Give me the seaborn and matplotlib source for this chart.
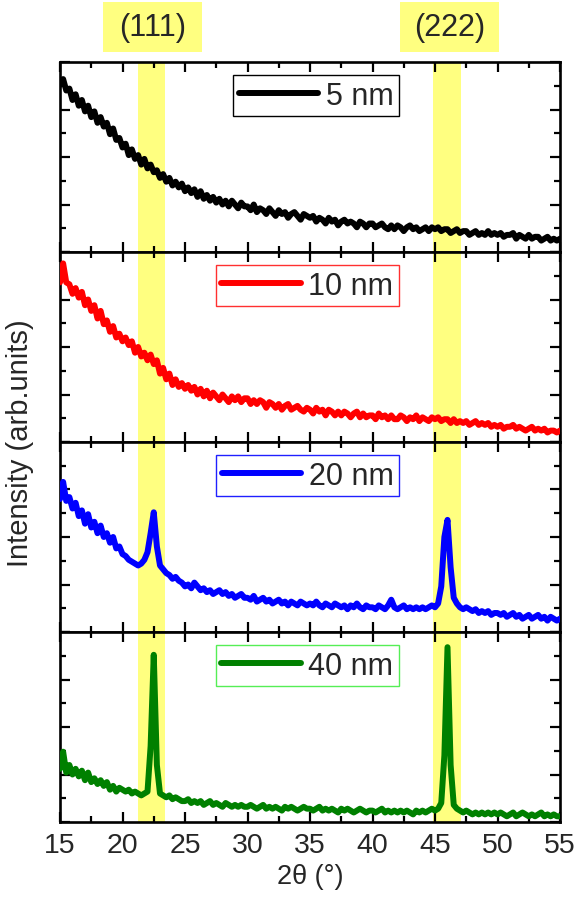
import numpy as np
import pandas as pd
import matplotlib
matplotlib.use("Agg")
import matplotlib.pyplot as plt
from matplotlib.ticker import MultipleLocator
from matplotlib.patches import Rectangle
from matplotlib.transforms import blended_transform_factory
import seaborn as sns

# ---- data -------------------------------------------------------------
two_theta = np.arange(15.0, 55.001, 0.25)

labels = ["5 nm", "10 nm", "20 nm", "40 nm"]
line_colors = ["black", "#ff0000", "#0000ff", "#008000"]
frame_colors = ["black", "#ff3030", "#2020ff", "#55ee55"]

i_5nm = [
    88, 91, 85, 86, 80, 83, 77, 80, 74, 77, 71, 74, 68, 71, 66, 68, 62, 65, 59, 60,
    55, 57, 51, 54, 49, 51, 46, 49, 44, 46, 42, 43, 39, 41, 37, 39, 35, 37, 34, 36,
    32, 34, 31, 33, 29, 32, 28, 30, 27, 29, 26, 28, 25, 27, 24, 27, 25, 23, 26, 24,
    24, 22, 25, 21, 23, 22, 20, 23, 21, 19, 22, 20, 21, 18, 20, 21, 19, 17, 20, 19,
    18, 19, 16, 18, 17, 15, 18, 16, 17, 14, 16, 17, 15, 16, 15, 13, 16, 15, 13, 15,
    15, 13, 14, 15, 13, 12, 14, 12, 14, 13, 11, 13, 14, 12, 13, 11, 12, 13, 11, 13,
    12, 13, 11, 12, 12, 10, 11, 12, 10, 11, 11, 9, 10, 11, 9, 10, 9, 11, 9, 10,
    9, 10, 8, 9, 9, 10, 7, 9, 8, 7, 9, 7, 8, 8, 6, 7, 8, 6, 7, 6,
    7,
]

i_10nm = [
    84, 94, 84, 83, 78, 81, 76, 79, 72, 75, 69, 72, 65, 69, 62, 64, 58, 61, 55, 57,
    53, 55, 51, 53, 47, 50, 45, 47, 43, 46, 41, 43, 36, 39, 33, 36, 30, 33, 29, 31,
    28, 30, 27, 29, 25, 28, 24, 27, 23, 26, 24, 22, 25, 23, 21, 24, 22, 24, 21, 23,
    23, 20, 22, 20, 22, 21, 18, 21, 20, 18, 20, 17, 19, 20, 17, 18, 19, 17, 16, 18,
    17, 15, 18, 16, 17, 14, 17, 16, 14, 16, 14, 16, 15, 13, 15, 16, 13, 15, 13, 14,
    14, 12, 15, 13, 14, 12, 14, 12, 12, 14, 13, 11, 13, 12, 14, 11, 13, 12, 11, 13,
    12, 13, 11, 12, 12, 10, 12, 10, 11, 10, 11, 9, 10, 11, 9, 10, 9, 10, 8, 9,
    8, 9, 7, 8, 8, 9, 7, 8, 7, 6, 7, 8, 6, 7, 6, 7, 5, 6, 6, 5,
    6,
]

i_20nm = [
    70, 79, 69, 71, 65, 68, 61, 64, 57, 62, 55, 58, 52, 56, 50, 52, 47, 50, 44, 45,
    41, 40, 38, 37, 36, 35, 36, 38, 42, 52, 63, 45, 35, 33, 31, 30, 28, 29, 27, 26,
    24, 25, 23, 26, 24, 22, 23, 21, 22, 20, 21, 22, 20, 21, 19, 20, 18, 19, 20, 18,
    18, 17, 19, 16, 17, 18, 16, 17, 15, 16, 17, 15, 16, 14, 16, 15, 14, 16, 15, 14,
    15, 14, 16, 14, 13, 15, 14, 13, 15, 14, 13, 14, 12, 14, 13, 15, 13, 12, 14, 13,
    13, 12, 14, 13, 12, 14, 17, 13, 12, 13, 14, 12, 13, 12, 13, 12, 13, 12, 13, 14,
    13, 15, 24, 50, 59, 34, 18, 15, 13, 12, 13, 12, 11, 12, 10, 11, 10, 11, 9, 10,
    10, 9, 10, 8, 9, 10, 8, 9, 7, 8, 9, 7, 8, 9, 7, 8, 6, 8, 7, 6,
    7,
]

i_40nm = [
    28, 37, 26, 30, 25, 28, 24, 27, 22, 26, 21, 23, 20, 22, 19, 21, 17, 19, 16, 18,
    17, 16, 17, 15, 16, 15, 14, 15, 16, 40, 88, 30, 15, 14, 13, 14, 12, 13, 12, 11,
    11, 12, 10, 11, 10, 11, 9, 10, 11, 9, 10, 9, 8, 10, 9, 8, 9, 8, 9, 8,
    8, 9, 8, 7, 8, 9, 7, 8, 7, 8, 7, 6, 8, 7, 8, 7, 6, 7, 8, 7,
    7, 6, 7, 8, 6, 7, 6, 7, 6, 5, 7, 6, 7, 6, 5, 6, 7, 6, 5, 6,
    6, 5, 6, 7, 5, 6, 5, 6, 5, 6, 5, 6, 5, 4, 6, 5, 6, 5, 6, 7,
    6, 7, 10, 35, 92, 30, 9, 7, 6, 5, 6, 5, 4, 5, 4, 5, 4, 5, 4, 5,
    4, 5, 4, 3, 4, 5, 3, 4, 5, 4, 3, 4, 3, 4, 5, 3, 4, 3, 4, 3,
    3,
]

series = [i_5nm, i_10nm, i_20nm, i_40nm]

bands = [(21.2, 23.4), (44.8, 47.1)]
peak_labels = ["(111)", "(222)"]
peak_label_x = [(18.45, 26.35), (42.2, 50.1)]

x_ticks = [15, 20, 25, 30, 35, 40, 45, 50, 55]

# ---- plotting ---------------------------------------------------------
sns.set_theme(style="white")
plt.rcParams["font.family"] = ["Liberation Sans", "DejaVu Sans"]
plt.rcParams["axes.linewidth"] = 1.9

yellow = "#ffff80"

fig, axes = plt.subplots(4, 1, figsize=(5.8, 9.04), dpi=100, sharex=True)
fig.subplots_adjust(left=60 / 580, right=560 / 580, top=1 - 63 / 904,
                    bottom=1 - 823 / 904, hspace=0)

for k, ax in enumerate(axes):
    df = pd.DataFrame({"2theta": two_theta, "I": series[k]})
    for lo, hi in bands:
        ax.axvspan(lo, hi, color=yellow, lw=0, zorder=0)
    sns.lineplot(data=df, x="2theta", y="I", ax=ax, color=line_colors[k],
                 lw=4.3, label=labels[k], zorder=3,
                 solid_capstyle="round", solid_joinstyle="round")
    ax.set_xlim(15, 55)
    ax.set_ylim(0, 100)
    ax.set_ylabel("")
    ax.set_xlabel("")
    ax.xaxis.set_major_locator(MultipleLocator(5))
    ax.xaxis.set_minor_locator(MultipleLocator(2.5))
    ax.yaxis.set_major_locator(MultipleLocator(25))
    ax.yaxis.set_minor_locator(MultipleLocator(12.5))
    ax.tick_params(which="both", direction="in", top=True, bottom=True,
                   left=True, right=True, width=1.6, color="black")
    ax.tick_params(which="major", length=7)
    ax.tick_params(which="minor", length=4.5)
    ax.tick_params(axis="y", labelleft=False)
    for sp in ax.spines.values():
        sp.set_color("black")
        sp.set_linewidth(1.9)
    leg = ax.legend(loc="upper right", bbox_to_anchor=(0.678, 0.93),
                    borderaxespad=0, fontsize=22, frameon=True, fancybox=False,
                    handlelength=2.6, handletextpad=0.25, borderpad=0.18)
    leg.get_frame().set_edgecolor(frame_colors[k])
    leg.get_frame().set_linewidth(1.0)
    leg.get_frame().set_alpha(1)
    for h in leg.get_lines():
        h.set_solid_capstyle("round")

axes[-1].set_xticks(x_ticks)
axes[-1].tick_params(axis="x", labelsize=20.5, pad=7)
axes[-1].set_xlabel("2θ (°)", fontsize=19.5, labelpad=4)
fig.text(0.035, (1 - 443 / 904), "Intensity (arb.units)", rotation=90,
         ha="center", va="center", fontsize=21)

# peak labels above the top panel
top = axes[0]
tr = blended_transform_factory(top.transData, top.transAxes)
for (x0, x1), lab in zip(peak_label_x, peak_labels):
    rect = Rectangle((x0, 1.053), x1 - x0, 0.265, transform=tr,
                     facecolor=yellow, edgecolor="none", clip_on=False)
    top.add_patch(rect)
    top.text((x0 + x1) / 2, 1.185, lab, transform=tr, ha="center",
             va="center", fontsize=22)

fig.savefig("out.png", dpi=100)
